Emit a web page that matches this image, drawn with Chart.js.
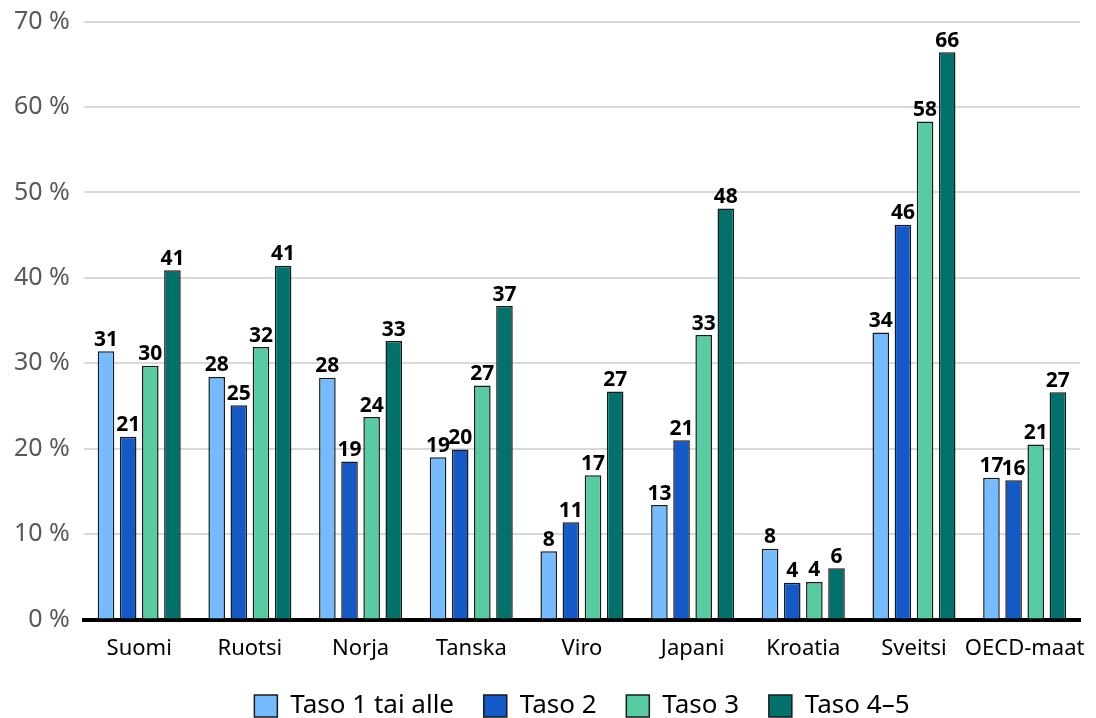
<!DOCTYPE html>
<html>
<head>
<meta charset="utf-8">
<script src="https://cdn.jsdelivr.net/npm/chart.js@4"></script>
<style>
  html, body { margin: 0; padding: 0; background: #fff; }
  #wrap { width: 1096px; height: 718px; }
</style>
</head>
<body>
<div id="wrap"><canvas id="kaavio" width="1096" height="718"></canvas></div>
<script>
const maat = ["Suomi", "Ruotsi", "Norja", "Tanska", "Viro", "Japani", "Kroatia", "Sveitsi", "OECD-maat"];
const taso1 = [31.4, 28.4, 28.3, 19.0, 8.0, 13.4, 8.3, 33.6, 16.6];
const taso2 = [21.4, 25.1, 18.5, 19.9, 11.4, 21.0, 4.3, 46.2, 16.3];
const taso3 = [29.7, 31.9, 23.7, 27.4, 16.9, 33.3, 4.4, 58.3, 20.5];
const taso45 = [40.9, 41.4, 32.6, 36.7, 26.7, 48.1, 6.0, 66.4, 26.6];
const yTicks = [0, 10, 20, 30, 40, 50, 60, 70];

const fontti = "'Noto Sans', 'Open Sans', sans-serif";

// arvot pylväiden päälle
const arvoLabelit = {
  id: "arvoLabelit",
  afterDatasetsDraw(chart) {
    const ctx = chart.ctx;
    ctx.save();
    ctx.font = "bold 21px " + fontti;
    ctx.fillStyle = "#000";
    ctx.textAlign = "center";
    ctx.textBaseline = "bottom";
    chart.data.datasets.forEach((ds, i) => {
      chart.getDatasetMeta(i).data.forEach((bar, j) => {
        ctx.fillText(Math.round(ds.data[j]), bar.x, bar.y - 1);
      });
    });
    ctx.restore();
  },
};

function sarja(nimi, data, vari) {
  return {
    label: nimi,
    data: data,
    backgroundColor: vari,
    borderColor: "#1a1a1a",
    borderWidth: 1.5,
    categoryPercentage: 0.8,
    barPercentage: 0.75,
  };
}

const ctx = document.getElementById("kaavio").getContext("2d");
const kaavio = new Chart(ctx, {
  type: "bar",
  data: {
    labels: maat,
    datasets: [
      sarja("Taso 1 tai alle", taso1, "#75bbff"),
      sarja("Taso 2", taso2, "#1459c8"),
      sarja("Taso 3", taso3, "#56cca0"),
      sarja("Taso 4–5", taso45, "#00716b"),
    ],
  },
  options: {
    responsive: false,
    animation: false,
    layout: { padding: { top: 6, right: 16, left: 0, bottom: -11 } },
    scales: {
      x: {
        grid: { display: false },
        border: { color: "#000", width: 4 },
        ticks: {
          color: "#000",
          font: { family: fontti, size: 22 },
          padding: 8,
          maxRotation: 0,
          minRotation: 0,
          autoSkip: false,
        },
      },
      y: {
        min: 0,
        max: 70,
        afterBuildTicks: (axis) => {
          axis.ticks = yTicks.map((v) => ({ value: v }));
        },
        grid: { color: "#d9d9d9", lineWidth: 2, drawTicks: false },
        border: { display: false },
        ticks: {
          color: "#595959",
          font: { family: fontti, size: 25, lineHeight: 0.6 },
          padding: 14,
          callback: (v) => v + " %",
        },
      },
    },
    plugins: {
      legend: {
        position: "bottom",
        fullSize: false,
        labels: {
          color: "#000",
          font: { family: fontti, size: 26 },
          boxWidth: 23,
          boxHeight: 22,
          padding: 23,
          generateLabels: (chart) =>
            Chart.defaults.plugins.legend.labels.generateLabels(chart).map((l, i, all) => {
              if (i < all.length - 1) l.text = l.text + " ";
              return l;
            }),
        },
      },
      tooltip: { enabled: false },
    },
  },
  plugins: [arvoLabelit],
});
</script>
</body>
</html>
